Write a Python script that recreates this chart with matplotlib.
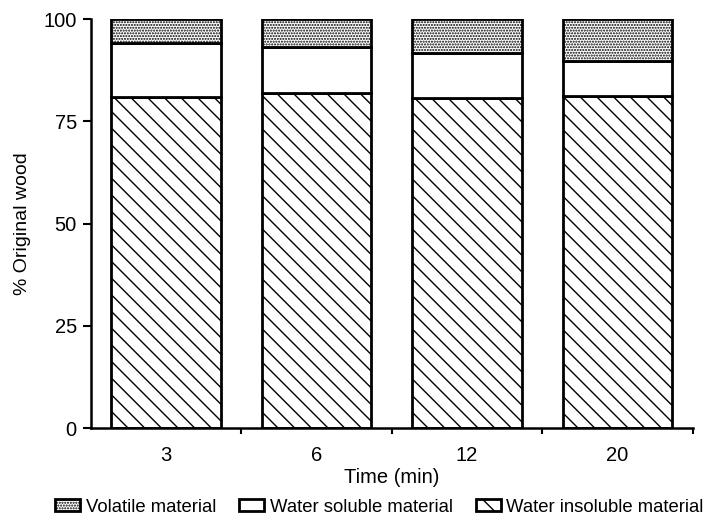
import numpy as np
import matplotlib
matplotlib.use("Agg")
import matplotlib.pyplot as plt
from matplotlib.patches import Patch

plt.rcParams['font.family']=['Liberation Sans','DejaVu Sans']
plt.rcParams['hatch.linewidth']=1.0

times=["3","6","12","20"]
insoluble=[80.9,81.9,80.7,81.2]
soluble=[13.2,11.3,11.0,8.5]
volatile=[5.9,6.8,8.3,10.3]
labels=["Volatile material","Water soluble material","Water insoluble material"]

fig=plt.figure(figsize=(7.09,5.19),dpi=100)
ax=fig.add_axes([0.128,0.175,0.849,0.788])
x=np.arange(len(times))
w=0.73
ins=np.array(insoluble)
sol=np.array(soluble)
vol=np.array(volatile)
ax.bar(x,ins,w,color="white",edgecolor="black",linewidth=2,hatch="\\\\")
ax.bar(x,sol,w,bottom=ins,color="white",edgecolor="black",linewidth=2)
ax.bar(x,vol,w,bottom=ins+sol,color="white",edgecolor="black",linewidth=2,hatch="......")

ax.set_xlim(-0.5,len(times)-0.5)
ax.set_ylim(0,100)
ax.set_yticks([0,25,50,75,100])
ax.set_xticks(x)
ax.set_xticklabels(times,fontsize=14.5)
ax.set_xticks(np.arange(len(times))+0.5,minor=True)
ax.tick_params(axis="x",which="major",length=0,pad=13)
ax.tick_params(axis="x",which="minor",length=4,width=1.5,direction="out")
ax.tick_params(axis="y",length=6,width=1.5,labelsize=14.5,pad=4)
for s in ["top","right"]:
    ax.spines[s].set_visible(False)
for s in ["left","bottom"]:
    ax.spines[s].set_linewidth(1.8)
ax.set_xlabel("Time (min)",fontsize=14.5,labelpad=2)
ax.set_ylabel("% Original wood",fontsize=14,labelpad=9)

handles=[Patch(facecolor="white",edgecolor="black",hatch="......",linewidth=2),
         Patch(facecolor="white",edgecolor="black",linewidth=2),
         Patch(facecolor="white",edgecolor="black",hatch="\\\\",linewidth=2)]
fig.legend(handles,labels,loc="center",bbox_to_anchor=(0.535,0.023),ncol=3,frameon=False,
           fontsize=13.3,handlelength=1.35,handleheight=0.65,handletextpad=0.3,
           columnspacing=1.25,borderpad=0,borderaxespad=0)

fig.savefig("out.png",dpi=100)
